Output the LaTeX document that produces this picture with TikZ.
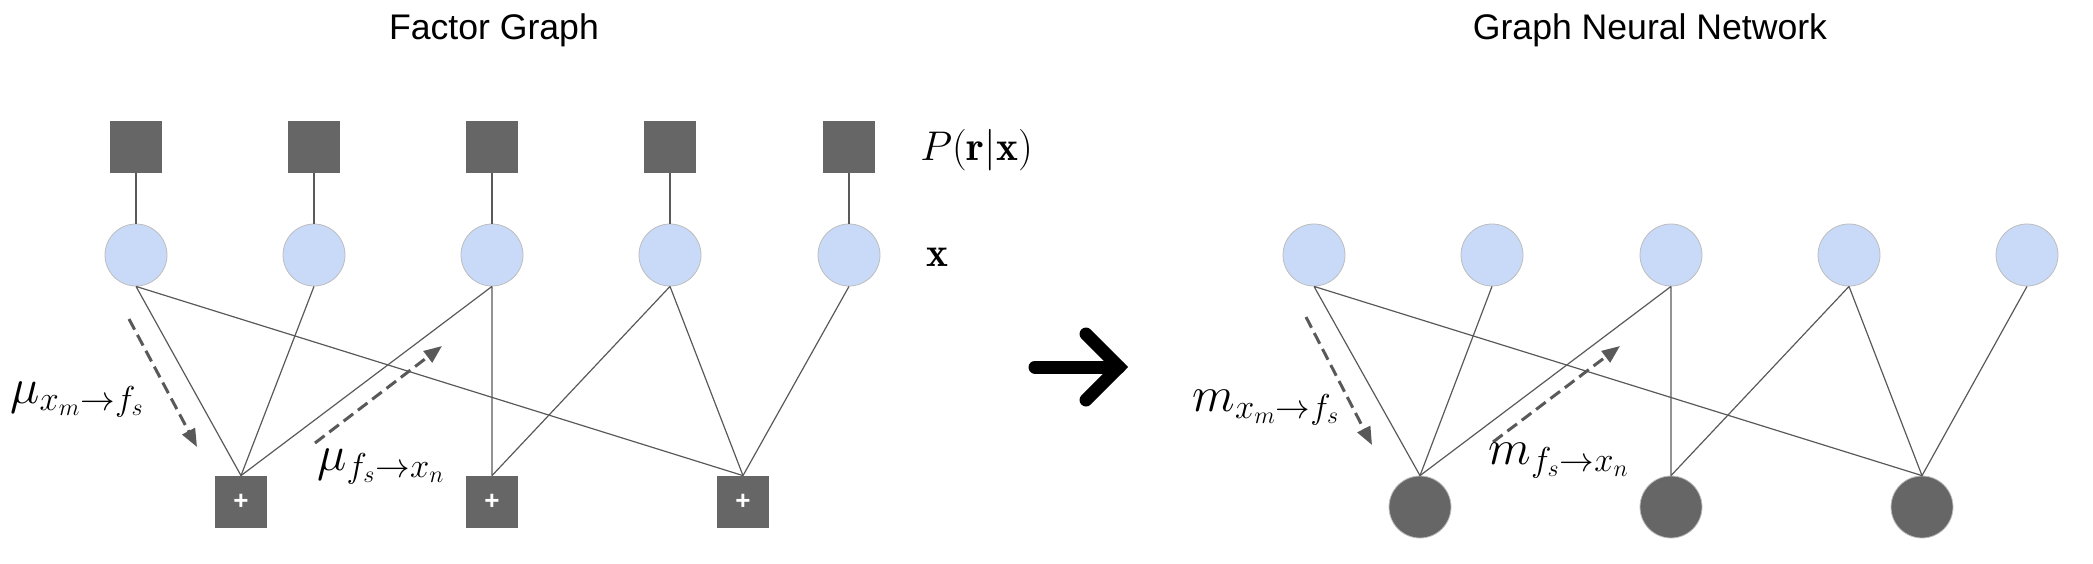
\documentclass[tikz,border=0pt]{standalone}
\usepackage{amsmath}
\usepackage{fontspec}
\setsansfont{Liberation Sans}
\usepackage{xcolor}
\usetikzlibrary{arrows.meta}

\DeclareMathSizes{24.88}{24.88}{17.28}{12}

\definecolor{factorgray}{HTML}{666666}
\definecolor{varblue}{HTML}{C9DAF8}
\definecolor{varborder}{HTML}{BDBDBD}
\definecolor{edgegray}{HTML}{595959}

\begin{document}
\begin{tikzpicture}[x=0.5pt,y=-0.5pt,
        factorbox/.style={rectangle,fill=factorgray,minimum size=26pt,inner sep=0pt},
        sumbox/.style={factorbox,text=white,font=\fontsize{13}{15}\selectfont\sffamily\bfseries},
        varnode/.style={circle,fill=varblue,draw=varborder,line width=0.4pt,minimum size=31pt,inner sep=0pt},
        hiddennode/.style={circle,fill=factorgray,draw=varborder,line width=0.4pt,minimum size=31pt,inner sep=0pt},
        link/.style={draw=edgegray,line width=0.6pt},
        msgarrow/.style={draw=edgegray,line width=1.5pt,dash pattern=on 6pt off 3pt,
            -{Triangle[length=9pt,width=7pt]}},
        bigarrow/.style={line width=6.5pt,line cap=round,line join=miter},
        titletext/.style={font=\fontsize{17.8}{21}\selectfont\sffamily,anchor=base},
        mathlabel/.style={font=\fontsize{20.74}{25}\selectfont,inner sep=0pt},
        msglabel/.style={font=\fontsize{24.88}{30}\selectfont,inner sep=0pt,anchor=base west}]
        \useasboundingbox (0,0) rectangle (2093,563);

        % Factor Graph
        \node[titletext] (fgtitle) at (494,39) {Factor Graph};

        % 观测因子与变量
        \node[factorbox] (p1) at (136,147) {};
        \node[factorbox] (p2) at (314,147) {};
        \node[factorbox] (p3) at (492,147) {};
        \node[factorbox] (p4) at (670,147) {};
        \node[factorbox] (p5) at (849,147) {};
        \node[mathlabel,anchor=west] (plabel) at (920,150) {$P(\mathbf{r}|\mathbf{x})$};

        \node[varnode] (x1) at (136,255) {};
        \node[varnode] (x2) at (314,255) {};
        \node[varnode] (x3) at (492,255) {};
        \node[varnode] (x4) at (670,255) {};
        \node[varnode] (x5) at (849,255) {};
        \node[mathlabel,anchor=west] (xlabel) at (926,257) {$\mathbf{x}$};

        \node[sumbox] (f1) at (241,502) {+};
        \node[sumbox] (f2) at (492,502) {+};
        \node[sumbox] (f3) at (743,502) {+};

        % 连线
        \draw[link] (p1) -- (x1) (p2) -- (x2) (p3) -- (x3) (p4) -- (x4) (p5) -- (x5);
        \draw[link] (x1.south) -- (f1.north) (x1.south) -- (f3.north);
        \draw[link] (x2.south) -- (f1.north);
        \draw[link] (x3.south) -- (f1.north) (x3.south) -- (f2.north);
        \draw[link] (x4.south) -- (f2.north) (x4.south) -- (f3.north);
        \draw[link] (x5.south) -- (f3.north);

        % 消息
        \coordinate (a1s) at (129,319);
        \coordinate (a1e) at (197,447);
        \coordinate (a2s) at (315,443);
        \coordinate (a2e) at (442,346);
        \draw[msgarrow] (a1s) -- (a1e);
        \draw[msgarrow] (a2s) -- (a2e);
        \node[msglabel] (mu1) at (10,403) {$\mu_{x_m\rightarrow f_s}$};
        \node[msglabel] (mu2) at (317,470) {$\mu_{f_s\rightarrow x_n}$};

        % 箭头
        \coordinate (arrS) at (1035,367);
        \coordinate (arrE) at (1119,367);
        \coordinate (arrU) at (1086,334);
        \coordinate (arrD) at (1086,400);
        \draw[bigarrow] (arrS) -- (arrE);
        \draw[bigarrow] (arrU) -- (arrE) -- (arrD);

        % Graph Neural Network
        \node[titletext] (gnntitle) at (1650,39) {Graph Neural Network};

        \node[varnode] (y1) at (1314,255) {};
        \node[varnode] (y2) at (1492,255) {};
        \node[varnode] (y3) at (1671,255) {};
        \node[varnode] (y4) at (1849,255) {};
        \node[varnode] (y5) at (2027,255) {};

        \node[hiddennode] (h1) at (1420,507) {};
        \node[hiddennode] (h2) at (1671,507) {};
        \node[hiddennode] (h3) at (1922,507) {};

        \draw[link] (y1.south) -- (h1.north) (y1.south) -- (h3.north);
        \draw[link] (y2.south) -- (h1.north);
        \draw[link] (y3.south) -- (h1.north) (y3.south) -- (h2.north);
        \draw[link] (y4.south) -- (h2.north) (y4.south) -- (h3.north);
        \draw[link] (y5.south) -- (h3.north);

        \coordinate (b1s) at (1306,317);
        \coordinate (b1e) at (1372,445);
        \coordinate (b2s) at (1493,442);
        \coordinate (b2e) at (1620,346);
        \draw[msgarrow] (b1s) -- (b1e);
        \draw[msgarrow] (b2s) -- (b2e);
        \node[msglabel] (m1) at (1192,411) {$m_{x_m\rightarrow f_s}$};
        \node[msglabel] (m2) at (1488,464) {$m_{f_s\rightarrow x_n}$};
    \end{tikzpicture}
\end{document}
